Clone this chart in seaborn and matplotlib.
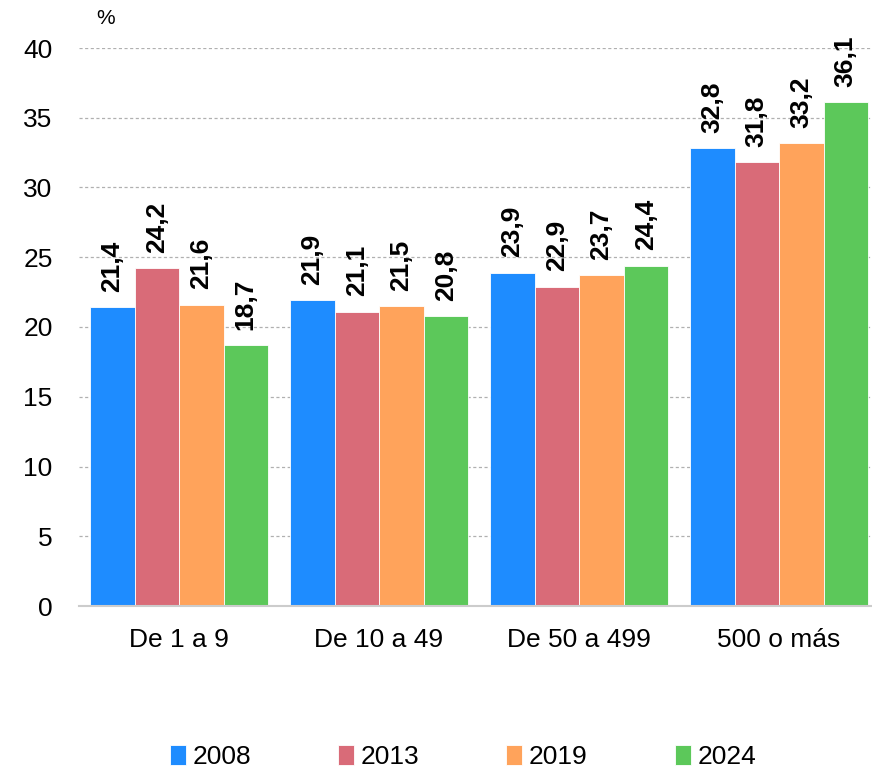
import pandas as pd
import matplotlib
matplotlib.use("Agg")
import matplotlib.pyplot as plt
import seaborn as sns

# Data
categories = ["De 1 a 9", "De 10 a 49", "De 50 a 499", "500 o más"]
years = ["2008", "2013", "2019", "2024"]
v2008 = [21.4, 21.9, 23.9, 32.8]
v2013 = [24.2, 21.1, 22.9, 31.8]
v2019 = [21.6, 21.5, 23.7, 33.2]
v2024 = [18.7, 20.8, 24.4, 36.1]
colors = ["#1E8CFF", "#D96B78", "#FFA35B", "#5CC85A"]

rows = []
for year, vals in zip(years, [v2008, v2013, v2019, v2024]):
    for cat, v in zip(categories, vals):
        rows.append({"Tamaño": cat, "Año": year, "Valor": v})
df = pd.DataFrame(rows)

sns.set_style("white")
plt.rcParams["font.family"] = ["Liberation Sans", "DejaVu Sans"]
plt.rcParams["text.color"] = "black"

fig = plt.figure(figsize=(8.72, 7.70), dpi=100)
ax = fig.add_axes([79 / 872, 164 / 770, 793 / 872, 558 / 770])

sns.barplot(data=df, x="Tamaño", y="Valor", hue="Año", palette=colors,
            saturation=1, width=0.89, gap=0, edgecolor="white",
            linewidth=0.6, ax=ax, legend=True)

# Value labels
for cont in ax.containers:
    labels = [f"{b.get_height():.1f}".replace(".", ",") for b in cont]
    ax.bar_label(cont, labels=labels, rotation=90, padding=11,
                 fontsize=19, fontweight="bold", color="black")

ax.set_ylim(0, 40)
ax.set_xlim(-0.5, -0.5 + 793 / 200)
ax.set_yticks(range(0, 45, 5))
ax.yaxis.grid(True, color="#B0B0B0", linestyle=(0, (2.5, 2)), linewidth=0.9)
ax.set_axisbelow(True)
for s in ["top", "right", "left"]:
    ax.spines[s].set_visible(False)
ax.spines["bottom"].set_color("#CCCCCC")
ax.spines["bottom"].set_linewidth(1.5)
ax.tick_params(axis="x", length=0, pad=16, labelsize=19, labelcolor="black")
ax.tick_params(axis="y", length=0, pad=19, labelsize=19, labelcolor="black")
ax.set_xlabel("")
ax.set_ylabel("")

fig.text(96 / 872, 1 - 18 / 770, "%", fontsize=15, ha="left", va="center")

ax.get_legend().remove()
handles, labs = ax.get_legend_handles_labels()
fig.legend(handles, labs, loc="center", bbox_to_anchor=(0.531, 0.017),
           ncol=4, frameon=False, fontsize=19, handlelength=0.6,
           handleheight=0.8, handletextpad=0.25, columnspacing=3.3,
           borderaxespad=0, labelcolor="black")

fig.savefig("out.png", dpi=100)
